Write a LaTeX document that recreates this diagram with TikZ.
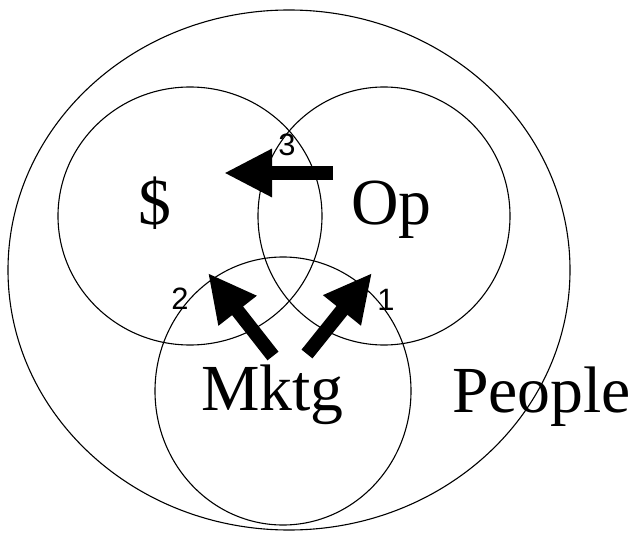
\documentclass[tikz,border=0pt]{standalone}
\usepackage{fontspec}
\setmainfont{Liberation Serif}
\newfontfamily\numfont{Liberation Sans}
\usetikzlibrary{arrows.meta,shapes.geometric}
\tikzset{
  ring/.style={ellipse,draw=black,line width=1.1bp,inner sep=0pt,
    minimum width=#1},
  area/.style={font=\fontsize{66}{70}\selectfont,inner sep=0pt,anchor=base west},
  stepnum/.style={font=\numfont\fontsize{31}{33}\selectfont,inner sep=0pt},
  push/.style={-{Triangle[length=48bp,width=45bp]},line width=14bp},
}

\begin{document}
\begin{tikzpicture}[x=1bp,y=-1bp]
  \useasboundingbox (0,0) rectangle (632,535);
  % the four areas
  \node[ring=562bp,minimum height=520bp] (people) at (289,270) {};
  \node[ring=264bp,minimum height=258bp] (money) at (190,216) {};
  \node[ring=252bp,minimum height=258bp] (ops) at (384,216) {};
  \node[ring=256bp,minimum height=268bp] (mktg) at (283,391) {};
  % names
  \node[area] (moneytxt) at (138,225) {\$};
  \node[area] (opstxt) at (351,225) {Op};
  \node[area] (mktgtxt) at (201,410) {Mktg};
  \node[area] (peopletxt) at (452,412) {People};
  % arrows, in order
  \coordinate (s1) at (307,354);
  \coordinate (e1) at (372,273);
  \coordinate (s2) at (273,356);
  \coordinate (e2) at (208,273);
  \coordinate (s3) at (333,173);
  \coordinate (e3) at (224,173);
  \foreach \i in {1,2,3}
    \draw[push] (s\i) -- (e\i);
  \node[stepnum] (n1) at (386,300) {1};
  \node[stepnum] (n2) at (180,299) {2};
  \node[stepnum] (n3) at (287,145) {3};
\end{tikzpicture}
\end{document}
